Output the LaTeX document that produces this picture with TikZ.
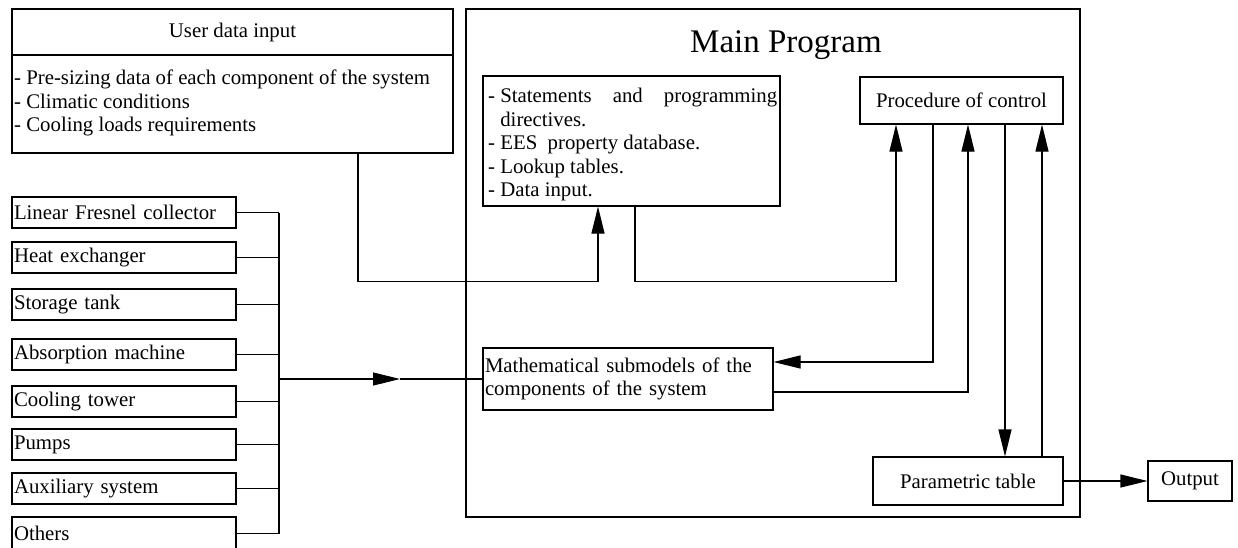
\documentclass[tikz,border=0pt]{standalone}
\usepackage{fontspec}
\setmainfont{Liberation Serif}
\usetikzlibrary{arrows.meta}
\newcommand{\fs}{\fontsize{20.8}{23.5}\selectfont}
\begin{document}
\begin{tikzpicture}[x=1pt,y=-1pt,
  box/.style={draw, line width=1.1pt, inner sep=0pt, font=\fs},
  comp/.style={box, minimum width=224pt, minimum height=31pt, text width=220pt, align=left},
  con/.style={line width=1.1pt},
  arr/.style={con, -{Triangle[length=27pt,width=13pt]}},
  lbl/.style={inner sep=0pt, font=\fs}
]
\useasboundingbox (0,0) rectangle (1238,547);
% user data input
\node[box, minimum width=441pt, minimum height=144pt] (user) at (232.5,81) {};
\draw[con] (user.west |- 0,55) -- (user.east |- 0,55);
\node[lbl] (usertitle) at (232.5,32) {User data input};
\node[lbl, anchor=north west, align=left] (userlist) at (14,70) {- Pre-sizing data of each component of the system\\- Climatic conditions\\- Cooling loads requirements};
% main program
\node[box, minimum width=614pt, minimum height=508pt] (main) at (773,263) {};
\node[lbl, font=\fontsize{33}{36}\selectfont] (maintitle) at (786,45) {Main Program};
\node[box, minimum width=297pt, minimum height=130pt] (stmt) at (631.5,141) {};
\node[lbl, anchor=north west, align=left] (stmttext) at (488,88) {\makebox[289pt][l]{- Statements\hfill and\hfill programming}\\\phantom{- }directives.\\- EES\ \ property database.\\- Lookup tables.\\- Data input.};
\node[box, minimum width=203pt, minimum height=47pt] (proc) at (961.5,100.5) {Procedure of control};
\node[box, minimum width=290pt, minimum height=62pt, text width=286pt, align=left] (math) at (628,379) {Mathematical submodels of the\\components of the system};
\node[box, minimum width=190pt, minimum height=48pt] (param) at (968,481) {Parametric table};
\node[box, minimum width=84pt, minimum height=40pt] (out) at (1190,481) {Output};
% components
\node[comp] (c1) at (124,212.5) {Linear Fresnel collector};
\node[comp] (c2) at (124,257.5) {Heat exchanger};
\node[comp] (c3) at (124,304.5) {Storage tank};
\node[comp] (c4) at (124,354.5) {Absorption machine};
\node[comp] (c5) at (124,401.5) {Cooling tower};
\node[comp] (c6) at (124,444.5) {Pumps};
\node[comp] (c7) at (124,488.5) {Auxiliary system};
\node[comp, minimum height=33pt] (c8) at (124,533.5) {Others};
\coordinate (bus) at (279,0);
\foreach \i in {1,...,8}{\draw[con] (c\i.east) -- (c\i.east -| bus);}
\draw[con] (c1.east -| bus) -- (c8.east -| bus);
\coordinate (busout) at (bus |- math.west);
\coordinate (midtip) at (400,377);
\draw[arr] (busout) -- (midtip |- math.west);
\draw[con] (midtip |- math.west) -- (math.west);
% connectors in main program
\draw[arr] ([xshift=125.5pt]user.south) -- ++(0,128) -| ([xshift=-33.5pt]stmt.south);
\draw[arr] ([xshift=3.5pt]stmt.south) -- ++(0,75) -| ([xshift=-65.5pt]proc.south);
\draw[arr] ([xshift=-28.5pt]proc.south) |- ([yshift=17pt]math.east);
\draw[arr] ([yshift=-13pt]math.east) -| ([xshift=6.5pt]proc.south);
\draw[arr] ([xshift=43.5pt]proc.south) -- ([xshift=37pt]param.north);
\draw[arr] ([xshift=74pt]param.north) -- ([xshift=80.5pt]proc.south);
\draw[arr] (param.east) -- (out.west);
\end{tikzpicture}
\end{document}
